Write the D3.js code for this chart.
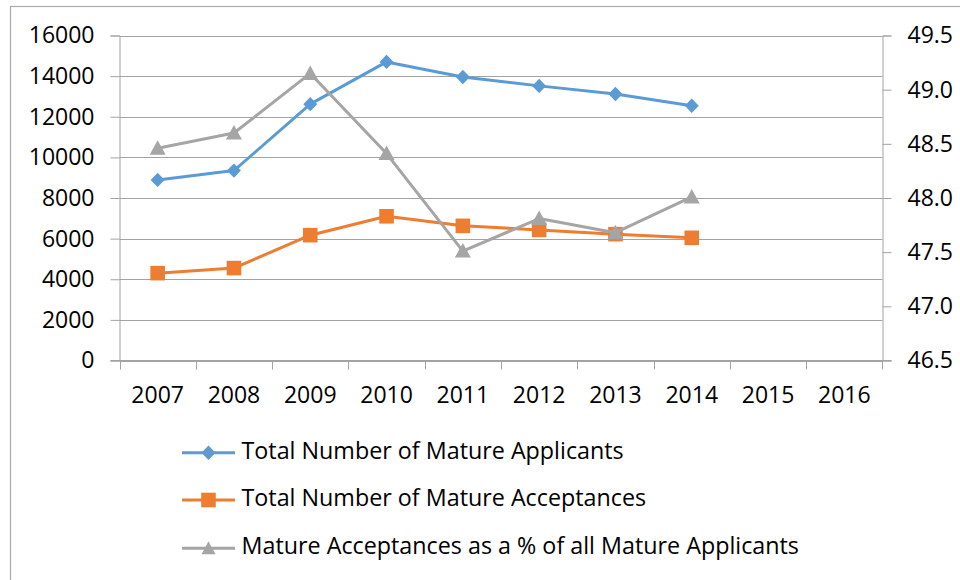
<!DOCTYPE html>
<html>
<head>
<meta charset="utf-8">
<script src="https://cdn.jsdelivr.net/npm/d3@7"></script>
<style>
  html, body { margin: 0; padding: 0; background: #ffffff; }
  svg { display: block; }
  text { font-family: "Open Sans", "DejaVu Sans", sans-serif; fill: #000; }
</style>
</head>
<body>
<svg id="chart" width="960" height="580"></svg>
<script>
// ---- data ----
const years = [2007, 2008, 2009, 2010, 2011, 2012, 2013, 2014, 2015, 2016];
const dataYears = [2007, 2008, 2009, 2010, 2011, 2012, 2013, 2014];
const applicants = [8890, 9350, 12620, 14700, 13960, 13520, 13120, 12540];
const acceptances = [4300, 4550, 6170, 7100, 6630, 6430, 6220, 6040];
const percentAccepted = [48.46, 48.60, 49.15, 48.41, 47.51, 47.81, 47.68, 48.01];
const leftTicks = [0, 2000, 4000, 6000, 8000, 10000, 12000, 14000, 16000];
const rightTicks = [46.5, 47.0, 47.5, 48.0, 48.5, 49.0, 49.5];
const seriesNames = [
  "Total Number of Mature Applicants",
  "Total Number of Mature Acceptances",
  "Mature Acceptances as a % of all Mature Applicants"
];
const seriesColors = ["#5b9bd5", "#ed7d31", "#a5a5a5"];
const seriesMarkers = ["diamond", "square", "triangle"];

// ---- layout ----
const svg = d3.select("#chart");
const plotLeft = 119.5, plotRight = 882.5, plotTop = 35.5, plotBottom = 360.5;
const gridColor = "#a3a3a3";

// outer frame
svg.append("rect")
  .attr("x", 10.5).attr("y", 6.5)
  .attr("width", 980).attr("height", 620)
  .attr("fill", "none").attr("stroke", "#aaaaaa").attr("stroke-width", 1.2);

const x = d3.scaleBand().domain(years).range([plotLeft, plotRight]).padding(0);
const yL = d3.scaleLinear().domain([0, 16000]).range([plotBottom, plotTop]);
const yR = d3.scaleLinear().domain([46.5, 49.5]).range([plotBottom, plotTop]);

// gridlines
svg.append("g").selectAll("line").data(leftTicks).join("line")
  .attr("x1", plotLeft).attr("x2", plotRight)
  .attr("y1", d => Math.round(yL(d)) + 0.5).attr("y2", d => Math.round(yL(d)) + 0.5)
  .attr("stroke", gridColor).attr("stroke-width", 1);

// left axis
const gL = svg.append("g").attr("transform", `translate(${plotLeft},0)`)
  .call(d3.axisLeft(yL).tickValues(leftTicks).tickSize(9).tickPadding(16).tickFormat(d3.format("d")));
gL.select(".domain").attr("stroke", gridColor);
gL.selectAll(".tick line").attr("stroke", gridColor);
gL.selectAll("text").attr("font-size", 23).attr("font-family", "Open Sans").attr("fill", "#000");

// right axis
const gR = svg.append("g").attr("transform", `translate(${plotRight},0)`)
  .call(d3.axisRight(yR).tickValues(rightTicks).tickSize(9).tickPadding(16).tickFormat(d3.format(".1f")));
gR.select(".domain").attr("stroke", gridColor);
gR.selectAll(".tick line").attr("stroke", gridColor);
gR.selectAll("text").attr("font-size", 23).attr("font-family", "Open Sans").attr("fill", "#000");

// bottom axis: boundary tick marks
const boundaries = years.map(d => x(d)).concat([x(years[years.length - 1]) + x.bandwidth()]);
svg.append("line")
  .attr("x1", plotLeft - 9).attr("x2", plotRight + 9)
  .attr("y1", plotBottom).attr("y2", plotBottom)
  .attr("stroke", gridColor);
svg.append("g").selectAll("line").data(boundaries).join("line")
  .attr("x1", d => Math.round(d) + 0.5).attr("x2", d => Math.round(d) + 0.5)
  .attr("y1", plotBottom).attr("y2", plotBottom + 9)
  .attr("stroke", gridColor);

const gB = svg.append("g").attr("transform", `translate(0,${plotBottom})`)
  .call(d3.axisBottom(x).tickSize(0).tickPadding(26));
gB.select(".domain").remove();
gB.selectAll("text").attr("font-size", 23).attr("font-family", "Open Sans").attr("fill", "#000");

// ---- series ----
const cx = d => x(d) + x.bandwidth() / 2;
const series = [
  { values: applicants, scale: yL },
  { values: acceptances, scale: yL },
  { values: percentAccepted, scale: yR }
];

function markerPath(type, big) {
  if (type === "diamond") return "M0,-7.2L7,0L0,7.2L-7,0Z";
  if (type === "square") return "M-7.3,-7.3H7.3V7.3H-7.3Z";
  return big ? "M0,-8L8,6.5L-8,6.5Z" : "M0,-7L7,6L-7,6Z";
}

series.forEach((s, i) => {
  const pts = dataYears.map((yr, j) => [cx(yr), s.scale(s.values[j])]);
  const g = svg.append("g");
  g.append("path")
    .attr("d", d3.line()(pts))
    .attr("fill", "none")
    .attr("stroke", seriesColors[i])
    .attr("stroke-width", 3)
    .attr("stroke-linejoin", "round")
    .attr("stroke-linecap", "round");
  g.selectAll("path.m").data(pts).join("path")
    .attr("class", "m")
    .attr("d", markerPath(seriesMarkers[i], true))
    .attr("transform", d => `translate(${d[0]},${d[1]})`)
    .attr("fill", seriesColors[i]);
});

// ---- legend ----
const legendY = [452.7, 500, 548.3];
const leg = svg.append("g");
seriesNames.forEach((name, i) => {
  const gy = legendY[i];
  leg.append("line")
    .attr("x1", 182).attr("x2", 235)
    .attr("y1", gy).attr("y2", gy)
    .attr("stroke", seriesColors[i]).attr("stroke-width", 3);
  leg.append("path")
    .attr("d", markerPath(seriesMarkers[i], false))
    .attr("transform", `translate(208.5,${gy})`)
    .attr("fill", seriesColors[i]);
  leg.append("text")
    .attr("x", 241.5).attr("y", gy + 6)
    .attr("font-size", 23.3)
    .text(name);
});
</script>
</body>
</html>
